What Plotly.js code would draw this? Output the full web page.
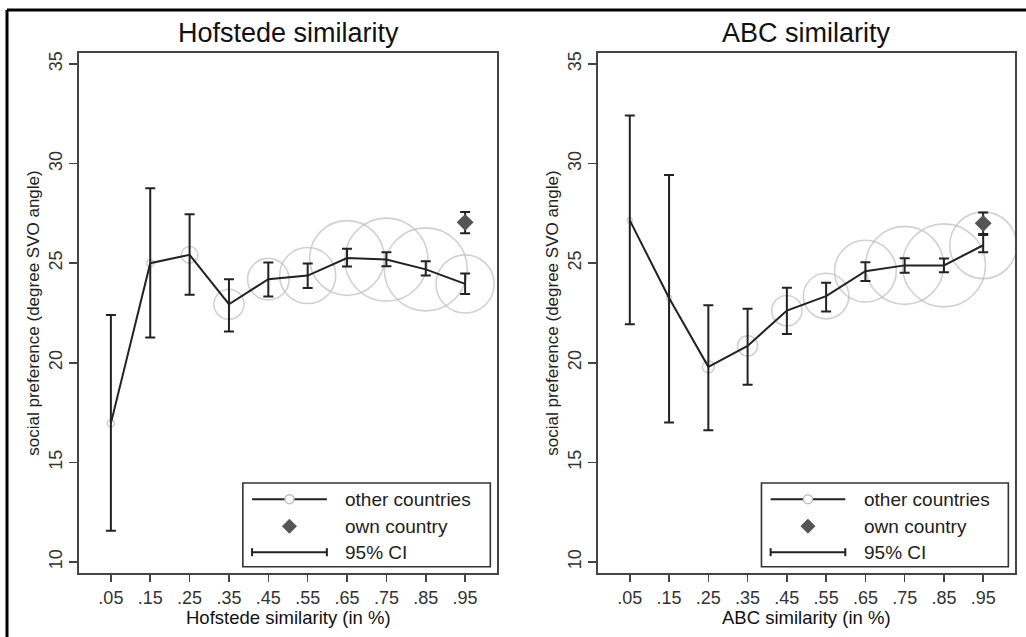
<!DOCTYPE html>
<html>
<head>
<meta charset="utf-8">
<script src="https://cdn.plot.ly/plotly-3.0.1.min.js"></script>
<style>
  html, body { margin: 0; padding: 0; background: #fff; }
  #chart { width: 1026px; height: 637px; }
</style>
</head>
<body>
<div id="chart"></div>
<script>
// ---- data ----
const simValues = [0.05, 0.15, 0.25, 0.35, 0.45, 0.55, 0.65, 0.75, 0.85, 0.95];
const simLabels = ['.05', '.15', '.25', '.35', '.45', '.55', '.65', '.75', '.85', '.95'];
const yTickValues = [10, 15, 20, 25, 30, 35];

// Hofstede similarity panel
const hofMean  = [16.96, 25.0, 25.42, 22.94, 24.2, 24.38, 25.26, 25.18, 24.69, 23.96];
const hofUpper = [22.4, 28.76, 27.46, 24.2, 25.03, 24.98, 25.72, 25.55, 25.1, 24.48];
const hofLower = [11.57, 21.27, 23.41, 21.57, 23.33, 23.76, 24.84, 24.85, 24.38, 23.45];
const hofShare = [0.18, 0.18, 0.95, 3.13, 5.96, 10.87, 19.32, 23.85, 23.85, 11.69]; // bubble weights (share of obs., %)
const hofOwnX = [0.95];
const hofOwnMean = [27.05];
const hofOwnUpper = [27.57];
const hofOwnLower = [26.5];

// ABC similarity panel
const abcMean  = [27.15, 23.25, 19.8, 20.85, 22.62, 23.35, 24.6, 24.89, 24.89, 25.9];
const abcUpper = [32.41, 29.43, 22.89, 22.71, 23.77, 24.02, 25.05, 25.25, 25.23, 26.41];
const abcLower = [21.93, 17.01, 16.61, 18.9, 21.45, 22.58, 24.1, 24.52, 24.55, 25.55];
const abcShare = [0.10, 0.10, 0.59, 1.65, 3.71, 8.35, 15.35, 24.45, 27.73, 17.96];
const abcOwnX = [0.95];
const abcOwnMean = [27.0];
const abcOwnUpper = [27.54];
const abcOwnLower = [26.47];

const panelTitles = ['Hofstede similarity', 'ABC similarity'];
const xTitles = ['Hofstede similarity (in %)', 'ABC similarity (in %)'];
const yTitle = 'social preference (degree SVO angle)';
const legendLabels = ['other countries', 'own country', '95% CI'];

// ---- styles ----
const FONT = '"Liberation Sans", Arial, sans-serif';
const DARK = '#222';
const BUBBLE = '#bdbdbd';
const DIAMOND = '#555';
const MAX_BUBBLE_PX = 83;

function diffs(a, b) { return a.map((v, i) => v - b[i]); }

function panelTraces(mean, upper, lower, share, ownX, ownMean, ownUpper, ownLower, xa, ya) {
  const maxShare = Math.max(...share);
  return [
    {
      x: simValues, y: mean, xaxis: xa, yaxis: ya, type: 'scatter', mode: 'markers',
      marker: { symbol: 'circle-open', size: share, sizemode: 'area',
                sizeref: 2 * maxShare / (MAX_BUBBLE_PX * MAX_BUBBLE_PX),
                color: BUBBLE, line: { width: 1.6, color: BUBBLE } },
      showlegend: false, hoverinfo: 'skip'
    },
    {
      x: simValues, y: mean, xaxis: xa, yaxis: ya, type: 'scatter', mode: 'lines',
      line: { color: DARK, width: 2 },
      error_y: { type: 'data', symmetric: false, array: diffs(upper, mean), arrayminus: diffs(mean, lower),
                 color: DARK, thickness: 2, width: 5 },
      showlegend: false
    },
    {
      x: ownX, y: ownMean, xaxis: xa, yaxis: ya, type: 'scatter', mode: 'markers',
      marker: { symbol: 'diamond', size: 13, color: DIAMOND },
      error_y: { type: 'data', symmetric: false, array: diffs(ownUpper, ownMean), arrayminus: diffs(ownMean, ownLower),
                 color: DARK, thickness: 2, width: 5 },
      showlegend: false
    }
  ];
}

const data = [
  ...panelTraces(hofMean, hofUpper, hofLower, hofShare, hofOwnX, hofOwnMean, hofOwnUpper, hofOwnLower, 'x', 'y'),
  ...panelTraces(abcMean, abcUpper, abcLower, abcShare, abcOwnX, abcOwnMean, abcOwnUpper, abcOwnLower, 'x2', 'y2')
];

const W = 1026, H = 637;
const domX1 = [79 / W, 497 / W];
const domX2 = [598 / W, 1015 / W];
const domY = [1 - 573 / H, 1 - 53 / H];

function xAxis(domain, anchor) {
  return {
    domain: domain, anchor: anchor, range: [-0.031, 1.031],
    tickmode: 'array', tickvals: simValues, ticktext: simLabels,
    ticks: 'outside', ticklen: 7, tickwidth: 1.5, tickcolor: '#444',
    showline: true, linecolor: '#444', linewidth: 2, mirror: true,
    showgrid: false, zeroline: false, automargin: false,
    tickfont: { family: FONT, size: 18, color: '#333' }
  };
}
function yAxis(anchor) {
  return {
    domain: domY, anchor: anchor, range: [9.45, 35.55],
    tickmode: 'array', tickvals: yTickValues, tickangle: -90,
    ticks: 'outside', ticklen: 8, tickwidth: 1.5, tickcolor: '#444',
    showline: true, linecolor: '#444', linewidth: 2, mirror: true,
    showgrid: false, zeroline: false, automargin: false,
    tickfont: { family: FONT, size: 18, color: '#333' },
    title: { text: yTitle, font: { family: FONT, size: 17, color: '#222' }, standoff: 2 }
  };
}

// custom legend (in axis-domain coordinates)
function legendParts(xr, yr) {
  const shapes = [], annotations = [];
  const bx0 = 0.392, bx1 = 0.984, by0 = 0.012, by1 = 0.173;
  const rows = [0.142, 0.090, 0.040];
  const sx0 = 0.414, sx1 = 0.593, sxc = 0.5035, tx = 0.632;
  shapes.push({ type: 'rect', xref: xr, yref: yr, x0: bx0, x1: bx1, y0: by0, y1: by1,
                line: { color: '#333', width: 1.6 }, fillcolor: 'white', layer: 'above' });
  // other countries: line + small circle
  shapes.push({ type: 'line', xref: xr, yref: yr, x0: sx0, x1: sx1, y0: rows[0], y1: rows[0],
                line: { color: DARK, width: 2 } });
  shapes.push({ type: 'circle', xref: xr, yref: yr, xsizemode: 'pixel', ysizemode: 'pixel',
                xanchor: sxc, yanchor: rows[0], x0: -4.5, x1: 4.5, y0: -4.5, y1: 4.5,
                line: { color: BUBBLE, width: 1.5 }, fillcolor: 'white' });
  // own country: diamond
  shapes.push({ type: 'path', xref: xr, yref: yr, xsizemode: 'pixel', ysizemode: 'pixel',
                xanchor: sxc, yanchor: rows[1], path: 'M -7 0 L 0 7 L 7 0 L 0 -7 Z',
                line: { color: DIAMOND, width: 1 }, fillcolor: DIAMOND });
  // 95% CI: horizontal bar with caps
  shapes.push({ type: 'line', xref: xr, yref: yr, x0: sx0, x1: sx1, y0: rows[2], y1: rows[2],
                line: { color: DARK, width: 2 } });
  [sx0, sx1].forEach(x => shapes.push({ type: 'line', xref: xr, yref: yr, xsizemode: 'pixel', ysizemode: 'pixel',
                xanchor: x, yanchor: rows[2], x0: 0, x1: 0, y0: -4, y1: 4, line: { color: DARK, width: 2 } }));
  legendLabels.forEach((t, i) => annotations.push({
    xref: xr, yref: yr, x: tx, y: rows[i], xanchor: 'left', yanchor: 'middle', showarrow: false,
    text: t, font: { family: FONT, size: 19, color: '#222' }
  }));
  return { shapes, annotations };
}

const lg1 = legendParts('x domain', 'y domain');
const lg2 = legendParts('x2 domain', 'y2 domain');

function textAnn(x, y, text, size) {
  return { xref: 'paper', yref: 'paper', x: x, y: y, xanchor: 'center', yanchor: 'middle',
           showarrow: false, text: text, font: { family: FONT, size: size, color: '#111' } };
}

const layout = {
  width: W, height: H,
  margin: { l: 0, r: 0, t: 0, b: 0 },
  paper_bgcolor: 'white', plot_bgcolor: 'white',
  showlegend: false,
  font: { family: FONT, color: '#222' },
  xaxis: xAxis(domX1, 'y'),
  yaxis: yAxis('x'),
  xaxis2: xAxis(domX2, 'y2'),
  yaxis2: yAxis('x2'),
  shapes: [
    // outer frame (top and left edges)
    { type: 'line', xref: 'paper', yref: 'paper', x0: 7 / W, x1: 1, y0: 1 - 10 / H, y1: 1 - 10 / H,
      line: { color: '#000', width: 3 } },
    { type: 'line', xref: 'paper', yref: 'paper', x0: 7 / W, x1: 7 / W, y0: 0, y1: 1 - 10 / H,
      line: { color: '#000', width: 3 } },
    ...lg1.shapes, ...lg2.shapes
  ],
  annotations: [
    // panel titles
    textAnn((domX1[0] + domX1[1]) / 2, 1 - 33 / H, panelTitles[0], 27),
    textAnn((domX2[0] + domX2[1]) / 2, 1 - 33 / H, panelTitles[1], 27),
    // x-axis titles (tight under the tick labels, as in the reference)
    textAnn((domX1[0] + domX1[1]) / 2, 1 - 617 / H, xTitles[0], 18.5),
    textAnn((domX2[0] + domX2[1]) / 2, 1 - 617 / H, xTitles[1], 18.5),
    ...lg1.annotations, ...lg2.annotations
  ]
};

Plotly.newPlot('chart', data, layout, { displayModeBar: false, staticPlot: true });
</script>
</body>
</html>
